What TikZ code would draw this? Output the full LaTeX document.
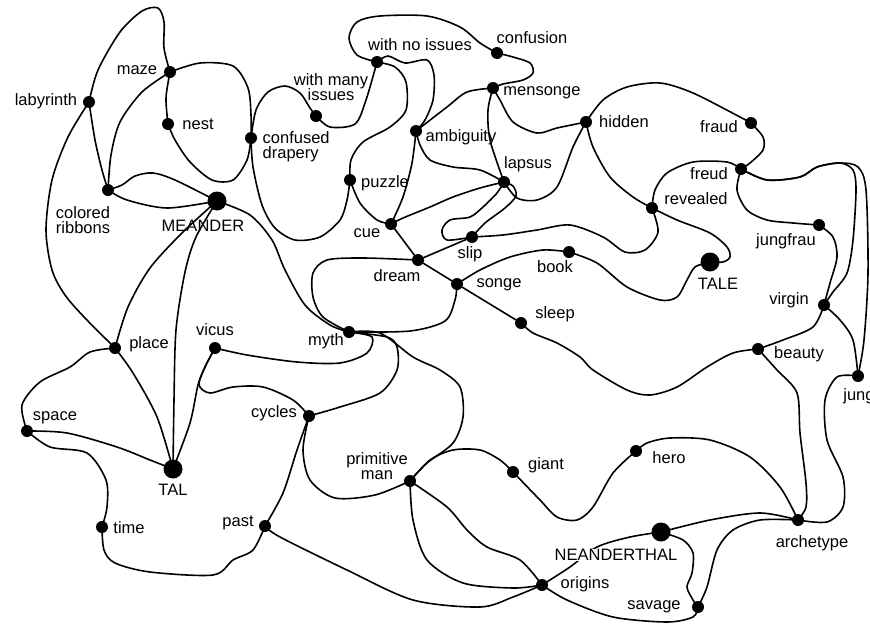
\documentclass[tikz,border=0pt]{standalone}
\usepackage{fontspec}
\setmainfont{Liberation Sans}
\begin{document}
\begin{tikzpicture}[x=1pt,y=-1pt,
  link/.style={line width=1.6pt, line cap=round, line join=round},
  dot/.style={circle, fill=black, inner sep=0pt, minimum size=12pt},
  bigdot/.style={circle, fill=black, inner sep=0pt, minimum size=19pt},
  lbl/.style={font=\fontsize{16.5}{17}\selectfont, inner sep=0.5pt, align=center},
]
\useasboundingbox[fill=white] (0,0) rectangle (870,624);

% ---- concept points ----
\node[dot] (laby) at (89,102) {};
\node[dot] (maze) at (170,72) {};
\node[dot] (nest) at (168,124) {};
\node[dot] (drap) at (251,138) {};
\node[dot] (ribb) at (108,190) {};
\node[bigdot] (meander) at (217,201) {};
\node[dot] (wnoi) at (377,62) {};
\node[dot] (wmany) at (316,116) {};
\node[dot] (confu) at (497,53) {};
\node[dot] (menso) at (493,88) {};
\node[dot] (ambig) at (416,131) {};
\node[dot] (puzzle) at (350,180) {};
\node[dot] (lapsus) at (504,182) {};
\node[dot] (cue) at (391,224) {};
\node[dot] (slip) at (472,237) {};
\node[dot] (dream) at (418,260) {};
\node[dot] (songe) at (457,284) {};
\node[dot] (book) at (569,252) {};
\node[dot] (hidden) at (586,122) {};
\node[dot] (fraud) at (751,123) {};
\node[dot] (freud) at (741,169) {};
\node[dot] (reveal) at (652,208) {};
\node[bigdot] (tale) at (710,262) {};
\node[dot] (jungfrau) at (819,225) {};
\node[dot] (virgin) at (824,305) {};
\node[dot] (beauty) at (758,349) {};
\node[dot] (jung) at (858,376) {};
\node[dot] (sleep) at (521,323) {};
\node[dot] (myth) at (349,332) {};
\node[dot] (vicus) at (215,348) {};
\node[dot] (place) at (115,348) {};
\node[dot] (space) at (27,431) {};
\node[bigdot] (tal) at (173,469) {};
\node[dot] (cycles) at (309,416) {};
\node[dot] (time) at (102,527) {};
\node[dot] (past) at (265,526) {};
\node[dot] (prim) at (410,481) {};
\node[dot] (giant) at (513,472) {};
\node[dot] (hero) at (636,451) {};
\node[bigdot] (nean) at (661,532) {};
\node[dot] (arch) at (798,520) {};
\node[dot] (origins) at (542,585) {};
\node[dot] (savage) at (698,607) {};

% ---- links ----
\begin{scope}[link]
% upper left cluster
\draw plot[smooth] coordinates {(laby) (98,70) (120,32) (142,11) (158,8) (164,22) (164,48) (maze)};
\draw plot[smooth] coordinates {(laby) (68,137) (52,180) (46,230) (52,270) (65,295) (85,318) (place)};
\draw plot[smooth] coordinates {(laby) (95,140) (102,170) (ribb)};
\draw plot[smooth] coordinates {(maze) (142,92) (120,122) (111,155) (ribb)};
\draw plot[smooth] coordinates {(maze) (166,98) (nest)};
\draw plot[smooth] coordinates {(maze) (200,63) (233,66) (248,88) (251,115) (drap)};
\draw plot[smooth] coordinates {(nest) (175,140) (190,162) (212,180) (233,180) (247,160) (drap)};
\draw plot[smooth] coordinates {(ribb) (127,200) (167,208) (meander)};
\draw plot[smooth] coordinates {(ribb) (122,185) (135,176) (153,173) (175,180) (meander)};
\draw plot[smooth] coordinates {(meander) (183,232) (150,268) (128,307) (place)};
\draw plot[smooth] coordinates {(meander) (196,237) (185,272) (176,330) (174,400) (tal)};
\draw plot[smooth] coordinates {(meander) (250,215) (272,240) (285,270) (305,305) (330,325) (myth)};
% lower left cluster
\draw plot[smooth] coordinates {(place) (133,373) (157,417) (tal)};
\draw plot[smooth] coordinates {(place) (90,352) (70,367) (40,382) (22,405) (space)};
\draw plot[smooth] coordinates {(space) (67,433) (117,447) (150,460) (tal)};
\draw plot[smooth] coordinates {(space) (50,447) (87,453) (106,480) (107,507) (time)};
\draw plot[smooth] coordinates {(time) (104,550) (115,563) (150,572) (213,575) (233,560) (253,550) (past)};
\draw plot[smooth] coordinates {(past) (283,493) (297,450) (cycles)};
\draw plot[smooth] coordinates {(past) (280,537) (347,570) (413,600) (480,607) (513,597) (origins)};
\draw plot[smooth] coordinates {(vicus) (205,367) (198,385) (190,423) (tal)};
\draw plot[smooth] coordinates {(vicus) (205,367) (199,385) (210,393) (233,387) (263,387) (293,400) (cycles)};
\draw plot[smooth] coordinates {(vicus) (247,355) (297,362) (340,363) (367,353) (372,337) (myth)};
\draw plot[smooth] coordinates {(cycles) (340,407) (380,393) (397,370) (397,347) (387,337) (myth)};
\draw plot[smooth] coordinates {(myth) (380,333) (413,357) (440,370) (460,387) (463,417) (453,443) (427,463) (prim)};
\draw plot[smooth] coordinates {(myth) (410,331) (445,321) (455,300) (songe)};
\draw plot[smooth] coordinates {(myth) (323,317) (313,297) (313,273) (327,260) (363,258) (dream)};
% upper middle cluster
\draw plot[smooth] coordinates {(drap) (253,167) (262,205) (275,228) (295,240) (320,237) (340,220) (347,200) (puzzle)};
\draw plot[smooth] coordinates {(drap) (256,110) (268,92) (285,86) (300,93) (310,108) (wmany)};
\draw plot[smooth] coordinates {(wmany) (330,127) (355,124) (366,100) (wnoi)};
\draw plot[smooth] coordinates {(wnoi) (357,55) (349,38) (357,22) (380,16) (427,16) (460,27) (480,43) (confu)};
\draw plot[smooth] coordinates {(confu) (513,57) (530,63) (533,73) (523,80) (503,84) (menso)};
\draw plot[smooth] coordinates {(wnoi) (395,67) (406,82) (406,110) (390,127) (363,142) (351,160) (puzzle)};
\draw plot[smooth] coordinates {(wnoi) (388,56) (405,63) (427,60) (434,75) (433,100) (425,120) (ambig)};
\draw plot[smooth] coordinates {(ambig) (447,107) (467,92) (menso)};
\draw plot[smooth] coordinates {(ambig) (412,163) (403,197) (cue)};
\draw plot[smooth] coordinates {(ambig) (420,145) (430,160) (453,167) (480,170) (lapsus)};
\draw plot[smooth] coordinates {(menso) (488,110) (490,140) (lapsus)};
\draw plot[smooth] coordinates {(menso) (500,100) (513,122) (537,133) (557,128) (hidden)};
\draw plot[smooth] coordinates {(hidden) (603,100) (627,87) (660,83) (693,93) (740,117) (fraud)};
\draw plot[smooth] coordinates {(hidden) (573,147) (557,187) (537,200) (517,198) (lapsus)};
\draw plot[smooth] coordinates {(hidden) (593,147) (610,177) (633,197) (reveal)};
\draw plot[smooth] coordinates {(lapsus) (480,188) (453,197) (430,207) (403,218) (cue)};
\draw plot[smooth] coordinates {(lapsus) (497,193) (483,207) (470,217) (450,220) (442,230) (447,240) (slip)};
\draw plot[smooth] coordinates {(slip) (485,223) (505,208) (516,196) (513,186) (lapsus)};
\draw plot[smooth] coordinates {(puzzle) (360,203) (377,220) (cue)};
\draw (cue) -- (dream);
\draw (dream) -- (songe);
\draw (songe) -- (sleep);
\draw (dream) -- (slip);
% right cluster
\draw plot[smooth] coordinates {(sleep) (533,333) (557,343) (580,357) (593,370) (627,390) (650,395) (677,387) (707,367) (733,353) (beauty)};
\draw plot[smooth] coordinates {(songe) (480,270) (510,257) (543,250) (book)};
\draw plot[smooth] coordinates {(book) (597,263) (627,287) (660,300) (677,297) (687,280) (695,267) (tale)};
\draw plot[smooth] coordinates {(slip) (503,235) (537,230) (570,225) (603,237) (625,252) (645,250) (658,232) (reveal)};
\draw plot[smooth] coordinates {(reveal) (677,220) (710,233) (727,247) (730,257) (723,262) (tale)};
\draw plot[smooth] coordinates {(reveal) (655,190) (667,173) (693,162) (727,162) (freud)};
\draw plot[smooth] coordinates {(fraud) (763,137) (763,150) (750,163) (freud)};
\draw plot[smooth] coordinates {(freud) (737,190) (747,210) (767,220) (793,223) (jungfrau)};
\draw plot[smooth] coordinates {(freud) (767,180) (800,177) (817,167) (840,163) (853,170) (856,190) (853,240) (847,273) (833,292) (virgin)};
\draw plot[smooth] coordinates {(freud) (767,180) (800,177) (817,167) (840,163) (858,167) (866,190) (868,273) (864,340) (jung)};
\draw plot[smooth] coordinates {(jungfrau) (833,237) (837,257) (830,283) (virgin)};
\draw plot[smooth] coordinates {(virgin) (813,327) (783,340) (beauty)};
\draw plot[smooth] coordinates {(virgin) (840,320) (853,340) (jung)};
\draw plot[smooth] coordinates {(beauty) (777,370) (797,393) (800,433) (806,483) (806,507) (arch)};
\draw plot[smooth] coordinates {(jung) (837,377) (825,400) (827,440) (843,477) (843,507) (827,522) (arch)};
% lower right cluster
\draw plot[smooth] coordinates {(arch) (780,487) (750,457) (710,440) (670,438) (647,443) (hero)};
\draw plot[smooth] coordinates {(giant) (540,500) (557,517) (577,520) (593,507) (613,473) (hero)};
\draw plot[smooth] coordinates {(prim) (430,460) (453,450) (480,450) (500,460) (giant)};
\draw plot[smooth] coordinates {(prim) (413,520) (427,560) (463,583) (513,588) (origins)};
\draw plot[smooth] coordinates {(prim) (447,507) (467,530) (487,547) (520,560) (origins)};
\draw plot[smooth] coordinates {(cycles) (303,450) (310,480) (335,498) (375,495) (prim)};
\draw plot[smooth] coordinates {(nean) (630,537) (597,547) (570,567) (origins)};
\draw plot[smooth] coordinates {(origins) (567,600) (613,617) (667,622) (693,617) (savage)};
\draw plot[smooth] coordinates {(nean) (683,540) (693,553) (692,573) (687,587) (693,600) (savage)};
\draw plot[smooth] coordinates {(nean) (710,520) (760,513) (arch)};
\draw plot[smooth] coordinates {(savage) (707,587) (717,550) (733,530) (760,520) (arch)};
\end{scope}

% ---- labels ----
\node[lbl] (l-laby) at (46,101) {labyrinth};
\node[lbl] (l-maze) at (137,70) {maze};
\node[lbl] (l-nest) at (198,124) {nest};
\node[lbl, anchor=west, align=left] (l-drap) at (262,147) {confused\\[-2pt]drapery};
\node[lbl] (l-ribb) at (83,220) {colored\\[-2pt]ribbons};
\node[lbl] (l-meander) at (203,226) {MEANDER};
\node[lbl] (l-wmany) at (331,87) {with many\\[-2pt]issues};
\node[lbl] (l-wnoi) at (420,45) {with no issues};
\node[lbl] (l-confu) at (532,38) {confusion};
\node[lbl] (l-menso) at (542,93) {mensonge};
\node[lbl] (l-ambig) at (461,137) {ambiguity};
\node[lbl] (l-puzzle) at (385,183) {puzzle};
\node[lbl] (l-lapsus) at (528,164) {lapsus};
\node[lbl] (l-cue) at (367,233) {cue};
\node[lbl] (l-slip) at (470,254) {slip};
\node[lbl] (l-dream) at (397,276) {dream};
\node[lbl] (l-songe) at (499,285) {songe};
\node[lbl] (l-book) at (555,267) {book};
\node[lbl] (l-hidden) at (624,122) {hidden};
\node[lbl] (l-fraud) at (719,127) {fraud};
\node[lbl] (l-freud) at (709,174) {freud};
\node[lbl] (l-reveal) at (696,199) {revealed};
\node[lbl] (l-tale) at (718,284) {TALE};
\node[lbl] (l-jungfrau) at (786,241) {jungfrau};
\node[lbl] (l-virgin) at (789,300) {virgin};
\node[lbl] (l-beauty) at (799,354) {beauty};
\node[lbl] (l-jung) at (859,396) {jung};
\node[lbl] (l-sleep) at (555,314) {sleep};
\node[lbl] (l-myth) at (326,341) {myth};
\node[lbl] (l-vicus) at (215,330) {vicus};
\node[lbl] (l-place) at (149,344) {place};
\node[lbl] (l-space) at (55,418) {space};
\node[lbl] (l-tal) at (173,490) {TAL};
\node[lbl] (l-cycles) at (274,413) {cycles};
\node[lbl] (l-time) at (129,528) {time};
\node[lbl] (l-past) at (238,523) {past};
\node[lbl] (l-prim) at (377,466) {primitive\\[-2pt]man};
\node[lbl] (l-giant) at (546,465) {giant};
\node[lbl] (l-hero) at (669,458) {hero};
\node[lbl, fill=white] (l-nean) at (616,555) {NEANDERTHAL};
\node[lbl] (l-origins) at (585,584) {origins};
\node[lbl] (l-savage) at (654,607) {savage};
\node[lbl] (l-arch) at (812,543) {archetype};
\end{tikzpicture}
\end{document}
